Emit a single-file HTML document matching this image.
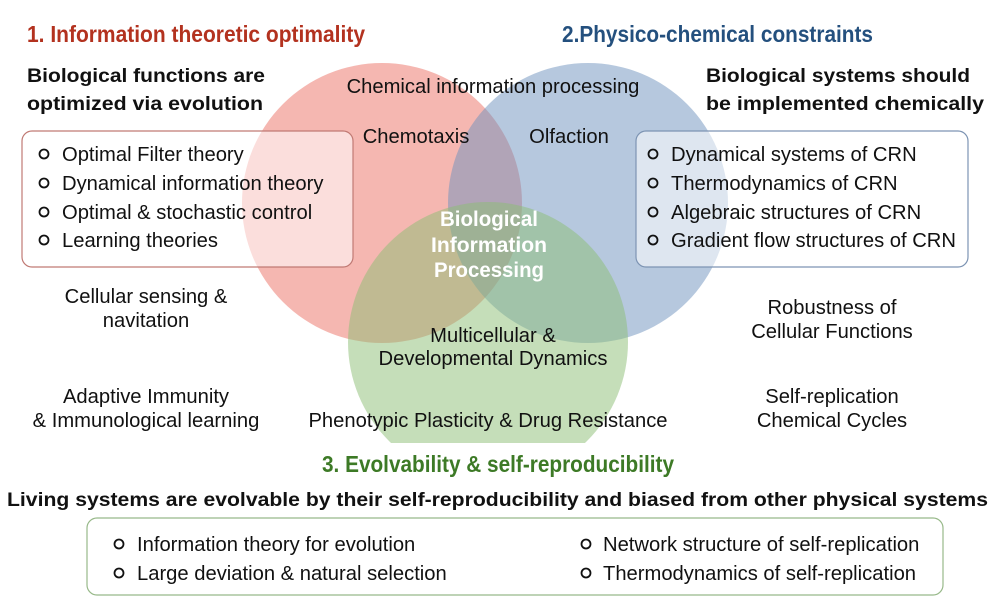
<!DOCTYPE html>
<html><head><meta charset="utf-8"><style>
body{margin:0;background:#fff}
svg{display:block}
text{font-family:"Liberation Sans",Arial,sans-serif;fill:#111}
.t{font-family:"Liberation Sans Narrow","Liberation Sans",sans-serif;font-weight:bold;font-size:23px}
.h{font-weight:bold;font-size:19.5px}
.b{font-size:20.2px}
</style></head><body>
<svg width="1000" height="600" viewBox="0 0 1000 600" xmlns="http://www.w3.org/2000/svg">
<defs><clipPath id="gc"><rect x="0" y="0" width="1000" height="443"/></clipPath></defs>
<circle cx="382" cy="203" r="140" fill="rgb(236,112,100)" fill-opacity="0.5"/>
<circle cx="588" cy="203" r="140" fill="rgb(110,145,190)" fill-opacity="0.5"/>
<circle cx="488" cy="342" r="140" fill="rgb(140,190,115)" fill-opacity="0.5" clip-path="url(#gc)"/>

<text class="t" x="27" y="42" style="fill:#b3321f" textLength="338" lengthAdjust="spacingAndGlyphs">1. Information theoretic optimality</text>
<text class="t" x="562" y="42" style="fill:#24507e" textLength="311" lengthAdjust="spacingAndGlyphs">2.Physico-chemical constraints</text>
<text class="t" x="322" y="472" style="fill:#3d7a26" textLength="352" lengthAdjust="spacingAndGlyphs">3. Evolvability &amp; self-reproducibility</text>

<text class="h" x="27" y="82" textLength="238" lengthAdjust="spacingAndGlyphs">Biological functions are</text>
<text class="h" x="27" y="110" textLength="236" lengthAdjust="spacingAndGlyphs">optimized via evolution</text>
<text class="h" x="706" y="82" textLength="264" lengthAdjust="spacingAndGlyphs">Biological systems should</text>
<text class="h" x="706" y="110" textLength="278" lengthAdjust="spacingAndGlyphs">be implemented chemically</text>
<text class="h" x="7" y="506" textLength="981" lengthAdjust="spacingAndGlyphs">Living systems are evolvable by their self-reproducibility and biased from other physical systems</text>

<rect x="22" y="131" width="331" height="136" rx="10" fill="#fff" fill-opacity="0.55" stroke="#c07a74" stroke-width="1.2"/>
<rect x="636" y="131" width="332" height="136" rx="10" fill="#fff" fill-opacity="0.55" stroke="#7d94b3" stroke-width="1.2"/>
<rect x="87" y="518" width="856" height="77" rx="10" fill="#fff" stroke="#98b98a" stroke-width="1.2"/>

<g fill="none" stroke="#111" stroke-width="1.8">
<circle cx="44" cy="154" r="4.5"/><circle cx="44" cy="183" r="4.5"/><circle cx="44" cy="212" r="4.5"/><circle cx="44" cy="240" r="4.5"/>
<circle cx="653" cy="154" r="4.5"/><circle cx="653" cy="183" r="4.5"/><circle cx="653" cy="212" r="4.5"/><circle cx="653" cy="240" r="4.5"/>
<circle cx="119" cy="544" r="4.5"/><circle cx="119" cy="573" r="4.5"/>
<circle cx="586" cy="544" r="4.5"/><circle cx="586" cy="573" r="4.5"/>
</g>
<text class="b" x="62" y="161">Optimal Filter theory</text>
<text class="b" x="62" y="190">Dynamical information theory</text>
<text class="b" x="62" y="219">Optimal &amp; stochastic control</text>
<text class="b" x="62" y="247">Learning theories</text>
<text class="b" x="671" y="161">Dynamical systems of CRN</text>
<text class="b" x="671" y="190">Thermodynamics of CRN</text>
<text class="b" x="671" y="219">Algebraic structures of CRN</text>
<text class="b" x="671" y="247">Gradient flow structures of CRN</text>
<text class="b" x="137" y="551">Information theory for evolution</text>
<text class="b" x="137" y="580">Large deviation &amp; natural selection</text>
<text class="b" x="603" y="551">Network structure of self-replication</text>
<text class="b" x="603" y="580">Thermodynamics of self-replication</text>

<text class="b" x="493" y="93" text-anchor="middle">Chemical information processing</text>
<text class="b" x="416" y="143" text-anchor="middle">Chemotaxis</text>
<text class="b" x="569" y="143" text-anchor="middle">Olfaction</text>
<text class="b" x="493" y="342" text-anchor="middle">Multicellular &amp;</text>
<text class="b" x="493" y="365" text-anchor="middle">Developmental Dynamics</text>
<text class="b" x="488" y="427" text-anchor="middle">Phenotypic Plasticity &amp; Drug Resistance</text>
<text class="b" x="146" y="303" text-anchor="middle">Cellular sensing &amp;</text>
<text class="b" x="146" y="327" text-anchor="middle">navitation</text>
<text class="b" x="146" y="403" text-anchor="middle">Adaptive Immunity</text>
<text class="b" x="146" y="427" text-anchor="middle">&amp; Immunological learning</text>
<text class="b" x="832" y="314" text-anchor="middle">Robustness of</text>
<text class="b" x="832" y="338" text-anchor="middle">Cellular Functions</text>
<text class="b" x="832" y="403" text-anchor="middle">Self-replication</text>
<text class="b" x="832" y="427" text-anchor="middle">Chemical Cycles</text>

<text class="t" x="489" y="226" text-anchor="middle" style="fill:#fff;font-size:21px" textLength="98" lengthAdjust="spacingAndGlyphs">Biological</text>
<text class="t" x="489" y="252" text-anchor="middle" style="fill:#fff;font-size:21px" textLength="116" lengthAdjust="spacingAndGlyphs">Information</text>
<text class="t" x="489" y="277" text-anchor="middle" style="fill:#fff;font-size:21px" textLength="110" lengthAdjust="spacingAndGlyphs">Processing</text>
</svg>
</body></html>
